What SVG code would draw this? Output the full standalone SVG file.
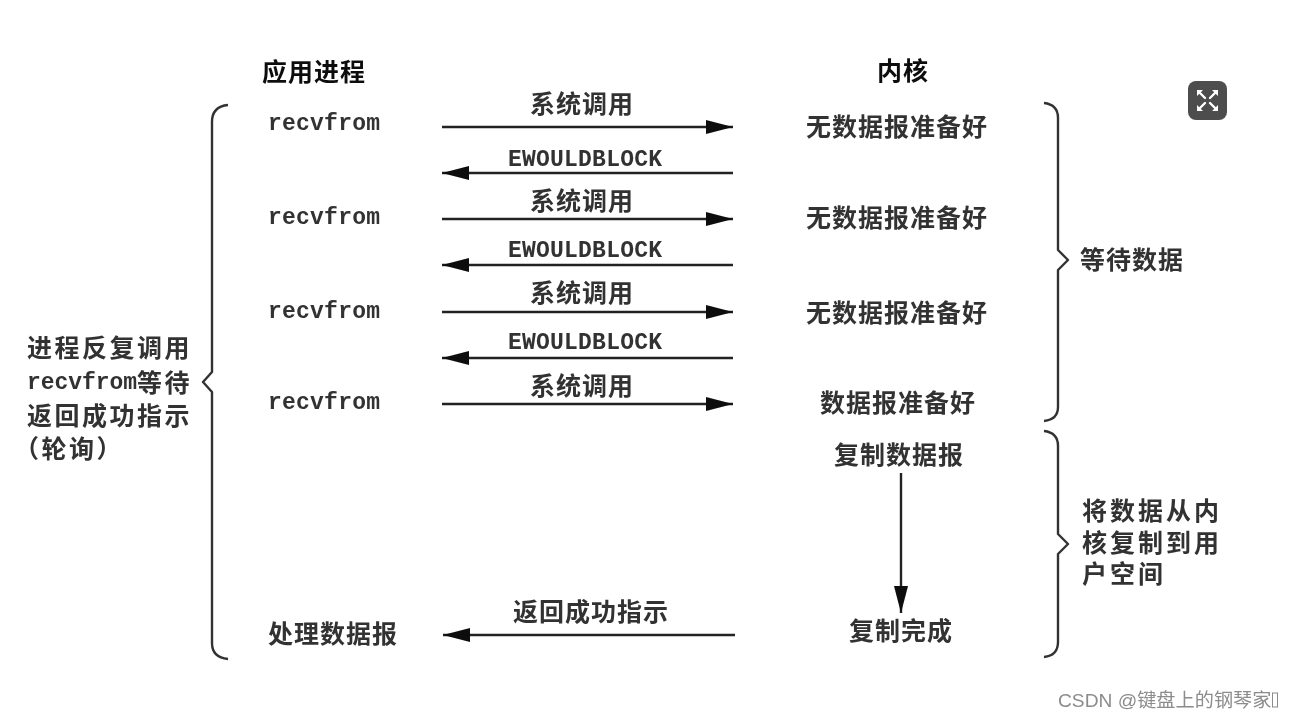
<svg xmlns="http://www.w3.org/2000/svg" width="1292" height="720" viewBox="0 0 1292 720">
<defs>
<style>
.c{font-family:"Noto Sans CJK SC","Liberation Sans",sans-serif;font-size:25px;font-weight:700;fill:#333;dominant-baseline:central;letter-spacing:1px}
.h{font-size:25px;fill:#111}
.m{font-family:"Liberation Mono","Noto Sans CJK SC",monospace;font-size:23px;font-weight:700;fill:#333;dominant-baseline:central}
.l{fill:none;stroke:#222;stroke-width:2.4}
.b{fill:none;stroke:#333;stroke-width:2.4;stroke-linejoin:round}
.k{stroke:#fff;stroke-width:2.4;stroke-linecap:round;fill:none}
</style>
<marker id="a" markerUnits="userSpaceOnUse" markerWidth="28" markerHeight="16" refX="27" refY="8" orient="auto-start-reverse"><path d="M0 1L27 8L0 15Z" fill="#0c0c0c"/></marker>
<filter id="s" x="-5%" y="-5%" width="110%" height="110%"><feGaussianBlur stdDeviation="0.7"/></filter>
</defs>
<rect width="1292" height="720" fill="#fff"/>
<g filter="url(#s)">
<g id="connectors">
<path class="l" marker-end="url(#a)" d="M442 127H733"/>
<path class="l" marker-end="url(#a)" d="M733 173H442"/>
<path class="l" marker-end="url(#a)" d="M442 219H733"/>
<path class="l" marker-end="url(#a)" d="M733 265H442"/>
<path class="l" marker-end="url(#a)" d="M442 312H733"/>
<path class="l" marker-end="url(#a)" d="M733 358H442"/>
<path class="l" marker-end="url(#a)" d="M442 404H733"/>
<path class="l" marker-end="url(#a)" d="M735 635H443"/>
<path class="l" marker-end="url(#a)" d="M901 473V613"/>
</g>
<g id="brace-left"><path class="b" d="M228 105C217 106 212 112 212 122V372L203 382L212 392V643C212 653 217 658 228 659"/></g>
<g id="brace-wait"><path class="b" d="M1044 103C1053 104 1058 109 1058 118V250L1068 260L1058 270V407C1058 416 1053 420 1044 421"/></g>
<g id="brace-copy"><path class="b" d="M1044 431C1053 432 1058 437 1058 446V534L1068 544L1058 554V642C1058 651 1053 656 1044 657"/></g>
<g id="header-app"><text class="c h" x="262" y="70">应用进程</text></g>
<g id="header-kernel"><text class="c h" x="877" y="69">内核</text></g>
<g id="app-1"><text class="m" x="268" y="124" textLength="112">recvfrom</text></g>
<g id="app-2"><text class="m" x="268" y="218" textLength="112">recvfrom</text></g>
<g id="app-3"><text class="m" x="268" y="312" textLength="112">recvfrom</text></g>
<g id="app-4"><text class="m" x="268" y="403" textLength="112">recvfrom</text></g>
<g id="app-5"><text class="c" x="268" y="632">处理数据报</text></g>
<g id="call-labels">
<text class="c" x="530" y="102">系统调用</text>
<text class="m" x="508" y="160" textLength="154">EWOULDBLOCK</text>
<text class="c" x="530" y="199">系统调用</text>
<text class="m" x="508" y="251" textLength="154">EWOULDBLOCK</text>
<text class="c" x="530" y="291">系统调用</text>
<text class="m" x="508" y="343" textLength="154">EWOULDBLOCK</text>
<text class="c" x="530" y="384">系统调用</text>
<text class="c" x="513" y="610">返回成功指示</text>
</g>
<g id="kernel-1"><text class="c" x="806" y="125">无数据报准备好</text></g>
<g id="kernel-2"><text class="c" x="806" y="216">无数据报准备好</text></g>
<g id="kernel-3"><text class="c" x="806" y="311">无数据报准备好</text></g>
<g id="kernel-4"><text class="c" x="820" y="401">数据报准备好</text></g>
<g id="kernel-5"><text class="c" x="834" y="453">复制数据报</text></g>
<g id="kernel-6"><text class="c" x="849" y="629">复制完成</text></g>
<g id="note-wait"><text class="c" x="1080" y="258">等待数据</text></g>
<g id="note-copy">
<text class="c" x="1082" y="509" style="letter-spacing:3px">将数据从内</text>
<text class="c" x="1082" y="541" style="letter-spacing:3px">核复制到用</text>
<text class="c" x="1082" y="572" style="letter-spacing:3px">户空间</text>
</g>
<g id="note-poll">
<text class="c" x="27" y="346" style="letter-spacing:2.5px">进程反复调用</text>
<text class="m" x="27" y="383" textLength="110">recvfrom</text>
<text class="c" x="137" y="381" style="letter-spacing:2.5px">等待</text>
<text class="c" x="27" y="414" style="letter-spacing:2.5px">返回成功指示</text>
<text class="c" x="14" y="447" style="letter-spacing:2.5px">（轮询）</text>
</g>
<g id="watermark"><text x="1058" y="707" style="font-family:'Liberation Sans','Noto Sans CJK SC',sans-serif;font-size:19.2px;fill:#8c8c8c">CSDN @键盘上的钢琴家</text><rect x="1272.500" y="693" width="5" height="14" fill="none" stroke="#8c8c8c" stroke-width="1"/></g>
</g>
<g id="expand-button" filter="url(#s)">
<rect x="1188" y="81" width="39" height="39" rx="8" fill="#4d4d4d"/>
<path class="k" d="M1199 92L1205 98M1216 92L1210 98M1199 109L1205 103M1216 109L1210 103"/>
<path fill="#fff" d="M1197 90h6l-6 6ZM1218 90h-6l6 6ZM1197 111h6l-6-6ZM1218 111h-6l6-6Z"/>
</g>
</svg>
